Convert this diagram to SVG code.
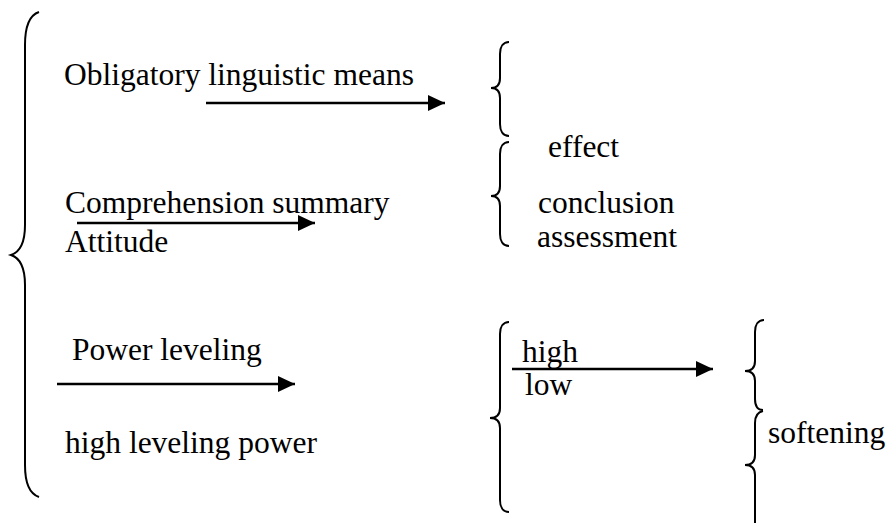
<svg xmlns="http://www.w3.org/2000/svg" width="888" height="523" viewBox="0 0 888 523">
<style>
text{font-family:"Liberation Serif","Times New Roman",serif;font-size:31.5px;fill:#000}
.brace{fill:none;stroke:#000;stroke-width:2}
.arrow{fill:none;stroke:#000;stroke-width:2.5;marker-end:url(#ah)}
</style>
<defs>
<marker id="ah" markerUnits="userSpaceOnUse" markerWidth="18" markerHeight="16" refX="17" refY="8" orient="auto">
<path d="M0,0 L17,8 L0,16 Z" fill="#000"/>
</marker>
</defs>
<rect width="888" height="523" fill="#fff"/>
<g id="braces">
<path id="brace-main" class="brace" d="M39,12 C30,15 25,27 25,45 L25,225 C25,243 20,252 11,255 C20,258 25,267 25,285 L25,465 C25,483 30,494 39,497"/>
<path id="brace-a" class="brace" d="M509,42 C503,42 500,47 500,54 L500,78 C500,84 497,88 491,88 C497,88 500,92 500,98 L500,124 C500,131 503,136 509,136"/>
<path id="brace-b" class="brace" d="M509,142 C503,142 500,147 500,154 L500,186 C500,192 497,196 491,196 C497,196 500,200 500,206 L500,234 C500,241 503,246 509,246"/>
<path id="brace-c" class="brace" d="M509,322 C503,322 500,327 500,334 L500,408 C500,414 497,418 490,418 C497,418 500,422 500,428 L500,500 C500,507 503,512 509,512"/>
<path id="brace-d" class="brace" d="M764,320 C758,320 755,325 755,332 L755,361 C755,367 752,371 745,371 C752,371 755,375 755,381 L755,399 C755,406 758,410 763,410"/>
<path id="brace-e" class="brace" d="M763,411 C758,412 755,416 755,423 L755,455 C755,461 752,465 745,465 C752,465 755,469 755,475 L755,523"/>
</g>
<g id="connectors">
<line class="arrow" x1="206" y1="103" x2="445" y2="103"/>
<line class="arrow" x1="77" y1="223" x2="315" y2="223"/>
<line class="arrow" x1="57" y1="384" x2="295" y2="384"/>
<line class="arrow" x1="512" y1="369" x2="713" y2="369"/>
</g>
<g id="node-obligatory"><text x="64" y="85">Obligatory linguistic means</text></g>
<g id="node-comprehension"><text x="65" y="213">Comprehension summary</text></g>
<g id="node-attitude"><text x="65" y="252">Attitude</text></g>
<g id="node-effect"><text x="548" y="157">effect</text></g>
<g id="node-conclusion"><text x="538" y="213">conclusion</text></g>
<g id="node-assessment"><text x="537" y="247">assessment</text></g>
<g id="node-power-leveling"><text x="72" y="360">Power leveling</text></g>
<g id="node-high-leveling"><text x="65" y="453">high leveling power</text></g>
<g id="node-high"><text x="522" y="362">high</text></g>
<g id="node-low"><text x="525" y="395">low</text></g>
<g id="node-softening"><text x="768" y="443">softening</text></g>
</svg>
